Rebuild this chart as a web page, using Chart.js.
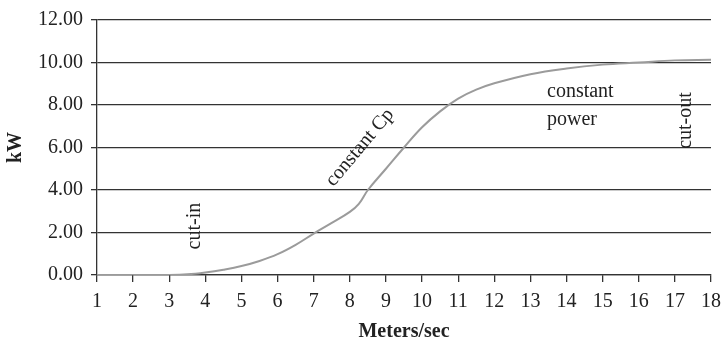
<!DOCTYPE html>
<html>
<head>
<meta charset="utf-8">
<script src="https://cdn.jsdelivr.net/npm/chart.js@4/dist/chart.umd.min.js"></script>
<style>
html,body{margin:0;padding:0;background:#fff;}
#wrap{width:721px;height:341px;position:relative;}
</style>
</head>
<body>
<div id="wrap"><canvas id="c" width="721" height="341"></canvas></div>
<script>
// Wind speed (m/s) and power output (kW)
const windSpeed = [1, 2, 3, 3.5, 4, 4.5, 5, 5.5, 6, 6.5, 7, 7.5, 8, 8.25, 8.5, 9, 9.5, 10, 10.5, 11, 11.5, 12, 13, 14, 15, 16, 17, 18];
const powerKW   = [0, 0, 0, 0.03, 0.12, 0.25, 0.42, 0.66, 0.98, 1.42, 1.95, 2.45, 2.97, 3.35, 4.0, 5.0, 6.0, 6.95, 7.7, 8.3, 8.72, 9.02, 9.45, 9.72, 9.9, 10.0, 10.1, 10.13];
const xTickLabels = ['1','2','3','4','5','6','7','8','9','10','11','12','13','14','15','16','17','18'];
const yTickLabels = ['0.00','2.00','4.00','6.00','8.00','10.00','12.00'];
const annotText  = ['cut-in', 'constant Cp', 'constant', 'power', 'cut-out'];
const annotX     = [3.71, 8.28, 13.46, 13.46, 17.31];
const annotY     = [2.3, 6.0, 8.63, 7.31, 7.27];

const FONT = '"Liberation Serif", "Times New Roman", serif';

const annotPlugin = {
  id: 'annot',
  afterDatasetsDraw(chart) {
    const ctx = chart.ctx, xs = chart.scales.x, ys = chart.scales.y;
    const rot = [-Math.PI/2, -50*Math.PI/180, 0, 0, -Math.PI/2];
    const align = ['center','center','left','left','center'];
    ctx.save();
    ctx.fillStyle = '#222';
    ctx.font = '20px ' + FONT;
    ctx.textBaseline = 'middle';
    for (let i = 0; i < annotText.length; i++) {
      ctx.save();
      ctx.translate(xs.getPixelForValue(annotX[i]), ys.getPixelForValue(annotY[i]));
      ctx.rotate(rot[i]);
      ctx.textAlign = align[i];
      ctx.fillText(annotText[i], 0, 0);
      ctx.restore();
    }
    ctx.restore();
  }
};

new Chart(document.getElementById('c'), {
  type: 'line',
  data: {
    datasets: [{
      data: windSpeed.map((w, i) => ({x: w, y: powerKW[i]})),
      borderColor: '#9b9b9b',
      borderWidth: 2,
      pointRadius: 0,
      tension: 0.4,
      fill: false
    }]
  },
  options: {
    responsive: false,
    animation: false,
    events: [],
    layout: { padding: { left: 0, right: 10, top: 19, bottom: 0 } },
    plugins: { legend: { display: false }, tooltip: { enabled: false } },
    scales: {
      x: {
        type: 'linear', min: 1, max: 18,
        afterFit(s) { s.height = 66; s.paddingLeft = 0; s.paddingRight = 0; },
        afterBuildTicks(s) { s.ticks = xTickLabels.map(v => ({value: Number(v)})); },
        ticks: { color: '#222', font: { family: FONT, size: 20 }, padding: 8, maxRotation: 0, autoSkip: false,
                 callback: (v, i) => xTickLabels[i] },
        grid: { drawOnChartArea: false, drawTicks: true, tickLength: 7, color: '#333', lineWidth: 1.3 },
        border: { display: true, color: '#333', width: 1.3 },
        title: { display: true, text: 'Meters/sec', color: '#222', font: { family: FONT, size: 20, weight: 'bold', lineHeight: 0.9 }, padding: { top: 0, bottom: 0 } }
      },
      y: {
        min: 0, max: 12,
        afterFit(s) { s.width = 97; },
        afterBuildTicks(s) { s.ticks = yTickLabels.map(v => ({value: Number(v)})); },
        ticks: { color: '#222', font: { family: FONT, size: 20 }, padding: 8,
                 callback: (v, i) => yTickLabels[i] },
        grid: { drawTicks: true, tickLength: 6, color: '#333', lineWidth: 1.3 },
        border: { display: true, color: '#333', width: 1.3 },
        title: { display: true, text: 'kW', color: '#222', font: { family: FONT, size: 20, weight: 'bold' }, padding: { top: 4, bottom: 0 } }
      }
    }
  },
  plugins: [annotPlugin]
});
</script>
</body>
</html>
